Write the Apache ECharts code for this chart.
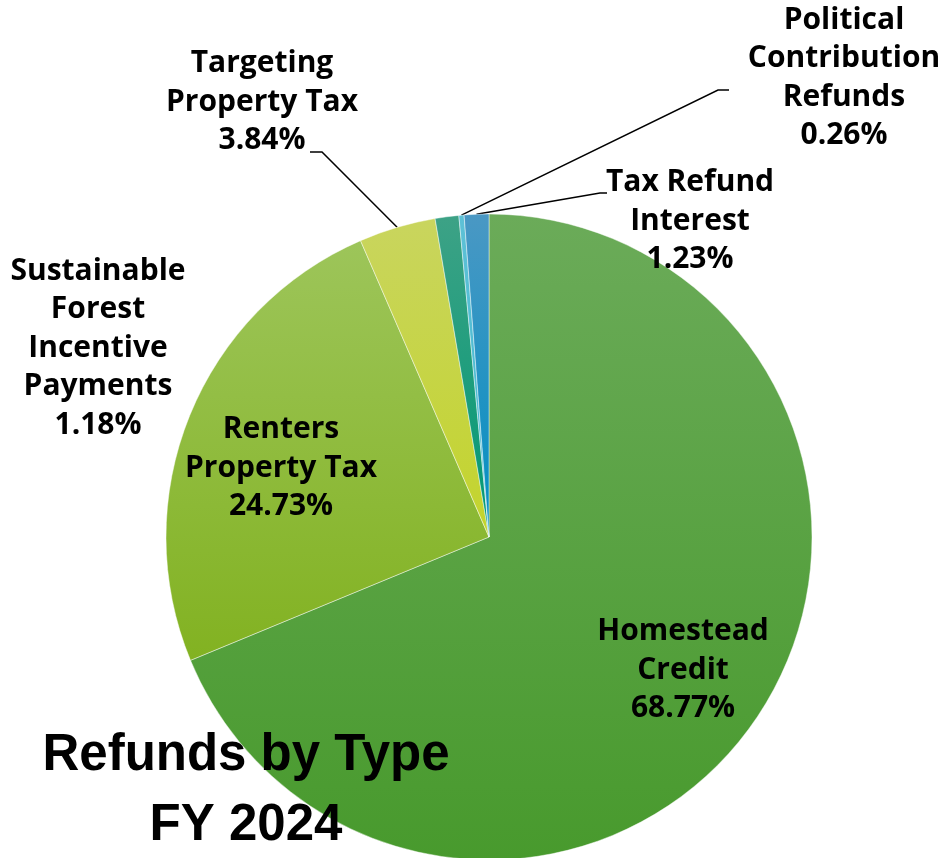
<!DOCTYPE html>
<html>
<head>
<meta charset="utf-8">
<script src="https://cdn.jsdelivr.net/npm/echarts@6/dist/echarts.min.js"></script>
<style>
  html, body { margin: 0; padding: 0; background: #ffffff; }
  #chart { width: 941px; height: 858px; }
</style>
</head>
<body>
<div id="chart"></div>
<script>
// Refund types, shares of total (percent), clockwise from 12 o'clock
const categories = [
  'Homestead\nCredit',
  'Renters\nProperty Tax',
  'Targeting\nProperty Tax',
  'Sustainable\nForest\nIncentive\nPayments',
  'Political\nContribution\nRefunds',
  'Tax Refund\nInterest'
];
const shares = [68.77, 24.73, 3.84, 1.18, 0.26, 1.23];

// Per-slice vertical gradient (top colour, bottom colour)
const sliceColors = [
  ['#6bab59', '#489a2d'],
  ['#9dc55a', '#82b221'],
  ['#c9d55e', '#c3d42c'],
  ['#3da286', '#009974'],
  ['#5ec1d6', '#3fb6cf'],
  ['#4a98c4', '#008fc2']
];

// Label block centres and leader-line bends
const labelCenters = [
  [683, 670], [281, 468], [262, 102], [98, 348], [844, 78], [690, 221]
];
const leaderBends = [
  null, null,
  [[322, 152], [310, 152]],
  null,
  [[718, 90], [729, 90]],
  [[600, 193], [607, 193]]
];

const chart = echarts.init(document.getElementById('chart'), null, { renderer: 'canvas' });

const data = categories.map(function (name, i) {
  return {
    name: name,
    value: shares[i],
    itemStyle: {
      color: {
        type: 'linear', x: 0, y: 0, x2: 0, y2: 1,
        colorStops: [
          { offset: 0, color: sliceColors[i][0] },
          { offset: 1, color: sliceColors[i][1] }
        ]
      }
    },
    labelLine: { show: !!leaderBends[i] }
  };
});

chart.setOption({
  animation: false,
  backgroundColor: '#ffffff',
  graphic: [{
    type: 'text',
    z: 100,
    x: 246,
    y: 791,
    style: {
      text: 'Refunds by Type\nFY 2024',
      textAlign: 'center',
      textVerticalAlign: 'middle',
      fontFamily: '"Liberation Sans", Arial, sans-serif',
      fontWeight: 'bold',
      fontSize: 51,
      lineHeight: 70,
      fill: '#000000'
    }
  }],
  series: [{
    type: 'pie',
    center: [489, 537],
    radius: [0, 323],
    startAngle: 90,
    clockwise: true,
    avoidLabelOverlap: false,
    data: data,
    itemStyle: {
      borderColor: 'rgba(255,255,255,0.55)',
      borderWidth: 0.8
    },
    label: {
      show: true,
      position: 'outside',
      formatter: function (p) { return p.name + '\n' + p.value.toFixed(2) + '%'; },
      fontFamily: '"Open Sans", sans-serif',
      fontWeight: 'bold',
      fontSize: 30,
      lineHeight: 38.5,
      color: '#000000',
      align: 'center'
    },
    labelLine: {
      show: true,
      smooth: false,
      lineStyle: { color: '#000000', width: 1.5 }
    },
    labelLayout: function (p) {
      const c = labelCenters[p.dataIndex];
      const out = { x: c[0], y: c[1], align: 'center', verticalAlign: 'middle' };
      const bend = leaderBends[p.dataIndex];
      if (bend && p.labelLinePoints) {
        out.labelLinePoints = [p.labelLinePoints[0], bend[0], bend[1]];
      }
      return out;
    },
    emphasis: { disabled: true }
  }]
});
</script>
</body>
</html>
